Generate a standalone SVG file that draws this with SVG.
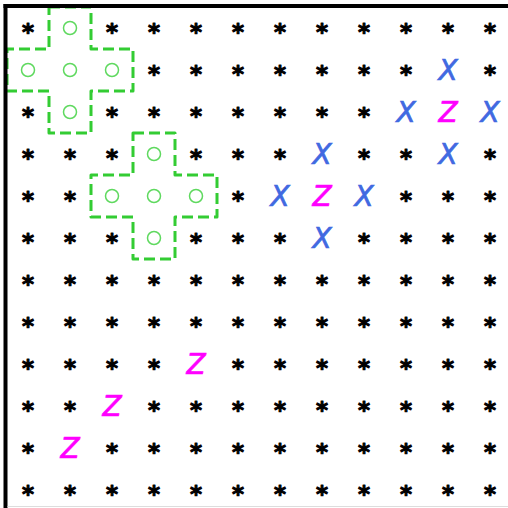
<svg xmlns="http://www.w3.org/2000/svg" width="508" height="508" viewBox="0 0 508 508">
<style>
.a{font-family:"DejaVu Sans",sans-serif;font-weight:bold;font-size:23px;fill:#000;stroke:#000;stroke-width:1;stroke-linejoin:round;text-anchor:middle}
.x{font-family:"DejaVu Sans",sans-serif;font-style:oblique;font-size:28px;fill:#4169e1;stroke:#4169e1;stroke-width:0.7;text-anchor:middle}
.z{font-family:"DejaVu Sans",sans-serif;font-style:oblique;font-size:28px;fill:#ff00ff;stroke:#ff00ff;stroke-width:0.7;text-anchor:middle}
.c{fill:none;stroke:#5fd95f;stroke-width:1.5}
.d{fill:none;stroke:#33cc33;stroke-width:3;stroke-dasharray:11 5;stroke-linejoin:round}
</style>
<rect width="508" height="508" fill="#fff"/>
<g id="asterisks" transform="translate(0,2.4)">
<text class="a" x="28" y="38">*</text><text class="a" x="112" y="38">*</text><text class="a" x="154" y="38">*</text><text class="a" x="196" y="38">*</text><text class="a" x="238" y="38">*</text><text class="a" x="280" y="38">*</text><text class="a" x="322" y="38">*</text><text class="a" x="364" y="38">*</text><text class="a" x="406" y="38">*</text><text class="a" x="448" y="38">*</text><text class="a" x="490" y="38">*</text>
<text class="a" x="154" y="80">*</text><text class="a" x="196" y="80">*</text><text class="a" x="238" y="80">*</text><text class="a" x="280" y="80">*</text><text class="a" x="322" y="80">*</text><text class="a" x="364" y="80">*</text><text class="a" x="406" y="80">*</text><text class="a" x="490" y="80">*</text>
<text class="a" x="28" y="122">*</text><text class="a" x="112" y="122">*</text><text class="a" x="154" y="122">*</text><text class="a" x="196" y="122">*</text><text class="a" x="238" y="122">*</text><text class="a" x="280" y="122">*</text><text class="a" x="322" y="122">*</text><text class="a" x="364" y="122">*</text>
<text class="a" x="28" y="164">*</text><text class="a" x="70" y="164">*</text><text class="a" x="112" y="164">*</text><text class="a" x="196" y="164">*</text><text class="a" x="238" y="164">*</text><text class="a" x="280" y="164">*</text><text class="a" x="364" y="164">*</text><text class="a" x="406" y="164">*</text><text class="a" x="490" y="164">*</text>
<text class="a" x="28" y="206">*</text><text class="a" x="70" y="206">*</text><text class="a" x="238" y="206">*</text><text class="a" x="406" y="206">*</text><text class="a" x="448" y="206">*</text><text class="a" x="490" y="206">*</text>
<text class="a" x="28" y="248">*</text><text class="a" x="70" y="248">*</text><text class="a" x="112" y="248">*</text><text class="a" x="196" y="248">*</text><text class="a" x="238" y="248">*</text><text class="a" x="280" y="248">*</text><text class="a" x="364" y="248">*</text><text class="a" x="406" y="248">*</text><text class="a" x="448" y="248">*</text><text class="a" x="490" y="248">*</text>
<text class="a" x="28" y="290">*</text><text class="a" x="70" y="290">*</text><text class="a" x="112" y="290">*</text><text class="a" x="154" y="290">*</text><text class="a" x="196" y="290">*</text><text class="a" x="238" y="290">*</text><text class="a" x="280" y="290">*</text><text class="a" x="322" y="290">*</text><text class="a" x="364" y="290">*</text><text class="a" x="406" y="290">*</text><text class="a" x="448" y="290">*</text><text class="a" x="490" y="290">*</text>
<text class="a" x="28" y="332">*</text><text class="a" x="70" y="332">*</text><text class="a" x="112" y="332">*</text><text class="a" x="154" y="332">*</text><text class="a" x="196" y="332">*</text><text class="a" x="238" y="332">*</text><text class="a" x="280" y="332">*</text><text class="a" x="322" y="332">*</text><text class="a" x="364" y="332">*</text><text class="a" x="406" y="332">*</text><text class="a" x="448" y="332">*</text><text class="a" x="490" y="332">*</text>
<text class="a" x="28" y="374">*</text><text class="a" x="70" y="374">*</text><text class="a" x="112" y="374">*</text><text class="a" x="154" y="374">*</text><text class="a" x="238" y="374">*</text><text class="a" x="280" y="374">*</text><text class="a" x="322" y="374">*</text><text class="a" x="364" y="374">*</text><text class="a" x="406" y="374">*</text><text class="a" x="448" y="374">*</text><text class="a" x="490" y="374">*</text>
<text class="a" x="28" y="416">*</text><text class="a" x="70" y="416">*</text><text class="a" x="154" y="416">*</text><text class="a" x="196" y="416">*</text><text class="a" x="238" y="416">*</text><text class="a" x="280" y="416">*</text><text class="a" x="322" y="416">*</text><text class="a" x="364" y="416">*</text><text class="a" x="406" y="416">*</text><text class="a" x="448" y="416">*</text><text class="a" x="490" y="416">*</text>
<text class="a" x="28" y="458">*</text><text class="a" x="112" y="458">*</text><text class="a" x="154" y="458">*</text><text class="a" x="196" y="458">*</text><text class="a" x="238" y="458">*</text><text class="a" x="280" y="458">*</text><text class="a" x="322" y="458">*</text><text class="a" x="364" y="458">*</text><text class="a" x="406" y="458">*</text><text class="a" x="448" y="458">*</text><text class="a" x="490" y="458">*</text>
<text class="a" x="28" y="500">*</text><text class="a" x="70" y="500">*</text><text class="a" x="112" y="500">*</text><text class="a" x="154" y="500">*</text><text class="a" x="196" y="500">*</text><text class="a" x="238" y="500">*</text><text class="a" x="280" y="500">*</text><text class="a" x="322" y="500">*</text><text class="a" x="364" y="500">*</text><text class="a" x="406" y="500">*</text><text class="a" x="448" y="500">*</text><text class="a" x="490" y="500">*</text>
</g>
<g id="circles">
<circle class="c" cx="70" cy="28" r="6.5"/><circle class="c" cx="28" cy="70" r="6.5"/><circle class="c" cx="70" cy="70" r="6.5"/><circle class="c" cx="112" cy="70" r="6.5"/><circle class="c" cx="70" cy="112" r="6.5"/>
<circle class="c" cx="154" cy="154" r="6.5"/><circle class="c" cx="112" cy="196" r="6.5"/><circle class="c" cx="154" cy="196" r="6.5"/><circle class="c" cx="196" cy="196" r="6.5"/><circle class="c" cx="154" cy="238" r="6.5"/>
</g>
<g id="crosses">
<path class="d" d="M49 7H91V49H133V91H91V133H49V91H7V49H49Z"/>
<path class="d" d="M133 133H175V175H217V217H175V259H133V217H91V175H133Z"/>
</g>
<g id="letters">
<text class="x" x="322" y="164">X</text><text class="x" x="280" y="206">X</text><text class="x" x="364" y="206">X</text><text class="x" x="322" y="248">X</text>
<text class="x" x="448" y="80">X</text><text class="x" x="406" y="122">X</text><text class="x" x="490" y="122">X</text><text class="x" x="448" y="164">X</text>
<text class="z" x="322" y="206">Z</text><text class="z" x="448" y="122">Z</text><text class="z" x="196" y="374">Z</text><text class="z" x="112" y="416">Z</text><text class="z" x="70" y="458">Z</text>
</g>
<g id="frame">
<rect x="3.5" y="4" width="504.5" height="4" fill="#000"/>
<rect x="3.5" y="4" width="4" height="504" fill="#000"/>
<line x1="7.5" y1="506.5" x2="508" y2="506.5" stroke="#dddddd" stroke-width="1"/>
</g>
</svg>
